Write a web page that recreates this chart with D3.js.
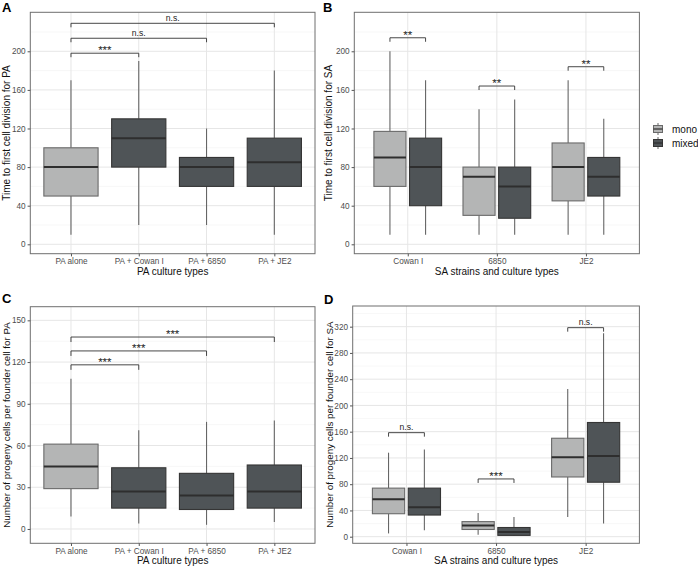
<!DOCTYPE html>
<html><head><meta charset="utf-8">
<script src="https://cdn.jsdelivr.net/npm/d3@7"></script>
<style>body{margin:0;background:#fff}svg{display:block;font-family:"Liberation Sans",Arial,sans-serif}</style>
</head><body>
<svg id="c" width="698" height="566"></svg>
<script>
// ---------- data ----------
const groups = ["mono", "mixed"];
// Panel A
const catsA = ["PA alone", "PA + Cowan I", "PA + 6850", "PA + JE2"];
const groupA = ["mono", "mixed", "mixed", "mixed"];
const minA = [10, 20, 20, 10];
const q1A  = [50, 80, 60, 60];
const medA = [80, 110, 80, 85];
const q3A  = [100, 130, 90, 110];
const maxA = [170, 190, 120, 180];
const ticksA = [0, 40, 80, 120, 160, 200];
const sigA = [{from:0,to:1,y:198,label:"***"},{from:0,to:2,y:213.5,label:"n.s."},{from:0,to:3,y:229,label:"n.s."}];
// Panel C
const minC = [9, 4, 3, 5];
const q1C  = [29, 15, 14, 15];
const medC = [45, 27, 24, 27];
const q3C  = [61, 44, 40, 46];
const maxC = [108, 71, 77, 78];
const ticksC = [0, 30, 60, 90, 120, 150];
const sigC = [{from:0,to:1,y:118,label:"***"},{from:0,to:2,y:128,label:"***"},{from:0,to:3,y:138,label:"***"}];
// Panel B (per strain: [mono, mixed])
const strains = ["Cowan I", "6850", "JE2"];
const minB = [[10,10],[10,10],[10,10]];
const q1B  = [[60,40],[30,27],[45,50]];
const medB = [[90,80],[70,60],[80,70]];
const q3B  = [[117,110],[80,80],[105,90]];
const maxB = [[200,170],[140,150],[170,130]];
const sigB = [{s:0,y:214,label:"**"},{s:1,y:164,label:"**"},{s:2,y:184,label:"**"}];
// Panel D
const minD = [[5,10],[3,1],[30,20]];
const q1D  = [[35,33],[11,2],[91,83]];
const medD = [[57,45],[17,7],[121,123]];
const q3D  = [[74,74],[23,14],[150,174]];
const maxD = [[128,133],[36,30],[225,310]];
const ticksD = [0, 40, 80, 120, 160, 200, 240, 280, 320];
const sigD = [{s:0,y:158.5,label:"n.s."},{s:1,y:88,label:"***"},{s:2,y:318.5,label:"n.s."}];

// ---------- style ----------
const fillC = {mono:"#b4b5b5", mixed:"#4f5457"};
const lineC = {mono:"#6a6a6a", mixed:"#353535"};
const svg = d3.select("#c");

function panel(o){
  const g = svg.append("g");
  const y = d3.scaleLinear().domain(o.yDom).range([o.bottom, o.top]);
  const x = d3.scalePoint().domain(o.cats).range([o.left, o.right]).padding(0.6);
  const step = x.step();
  // grid
  const minors = [];
  for (let i=0;i<o.ticks.length;i++){ const d=o.ticks[1]-o.ticks[0]; const m=o.ticks[i]+d/2; if(m<o.yDom[1]) minors.push(m); }
  g.selectAll(".gm").data(minors).join("line").attr("x1",o.left).attr("x2",o.right)
    .attr("y1",d=>y(d)).attr("y2",d=>y(d)).attr("stroke","#f1f1f1").attr("stroke-width",0.6);
  g.selectAll(".gM").data(o.ticks).join("line").attr("x1",o.left).attr("x2",o.right)
    .attr("y1",d=>y(d)).attr("y2",d=>y(d)).attr("stroke","#e6e6e6").attr("stroke-width",1);
  g.selectAll(".gx").data(o.cats).join("line").attr("y1",o.top).attr("y2",o.bottom)
    .attr("x1",d=>x(d)).attr("x2",d=>x(d)).attr("stroke","#e6e6e6").attr("stroke-width",1);
  // boxes
  const boxes = o.boxes(x, step);
  boxes.forEach(b=>{
    g.append("line").attr("x1",b.cx).attr("x2",b.cx).attr("y1",y(b.max)).attr("y2",y(b.q3)).attr("stroke","#666").attr("stroke-width",1.1);
    g.append("line").attr("x1",b.cx).attr("x2",b.cx).attr("y1",y(b.q1)).attr("y2",y(b.min)).attr("stroke","#666").attr("stroke-width",1.1);
    g.append("rect").attr("x",b.cx-b.w/2).attr("width",b.w).attr("y",y(b.q3)).attr("height",y(b.q1)-y(b.q3))
      .attr("fill",fillC[b.g]).attr("stroke",lineC[b.g]).attr("stroke-width",1.1);
    g.append("line").attr("x1",b.cx-b.w/2).attr("x2",b.cx+b.w/2).attr("y1",y(b.med)).attr("y2",y(b.med)).attr("stroke","#2e2e2e").attr("stroke-width",2);
  });
  // significance brackets
  o.sigs(x, step).forEach(s=>{
    const yy = y(s.y);
    const star = s.label.indexOf("*") >= 0;
    g.append("path").attr("d",`M${s.x1},${yy+o.tip}V${yy}H${s.x2}V${yy+o.tip}`).attr("fill","none").attr("stroke","#333").attr("stroke-width",0.9);
    g.append("text").attr("x",(s.x1+s.x2)/2).attr("y",star ? yy+1 : yy-2.6).attr("text-anchor","middle")
      .attr("font-size",star ? 11.5 : 8.6).attr("fill","#222").text(s.label);
  });
  // border
  g.append("rect").attr("x",o.left).attr("y",o.top).attr("width",o.right-o.left).attr("height",o.bottom-o.top)
    .attr("fill","none").attr("stroke","#6f6f6f").attr("stroke-width",1);
  // axes
  const ya = d3.axisLeft(y).tickValues(o.ticks).tickSize(2.7).tickPadding(2);
  const yg = g.append("g").attr("transform",`translate(${o.left},0)`).call(ya);
  const xa = d3.axisBottom(x).tickSize(2.7).tickPadding(1.8);
  const xg = g.append("g").attr("transform",`translate(0,${o.bottom})`).call(xa);
  [yg,xg].forEach(a=>{
    a.select(".domain").remove();
    a.selectAll(".tick line").attr("stroke","#555");
    a.selectAll("text").attr("font-size",8.2).attr("fill","#4d4d4d").attr("font-family","Liberation Sans, Arial, sans-serif");
  });
  // titles
  g.append("text").attr("x",(o.left+o.right)/2).attr("y",o.bottom+21).attr("text-anchor","middle")
    .attr("font-size",10).attr("fill","#111").text(o.xTitle);
  g.append("text").attr("transform",`translate(${o.yTitleX},${(o.top+o.bottom)/2}) rotate(-90)`).attr("text-anchor","middle")
    .attr("font-size",o.yTitleSize).attr("fill","#111").text(o.yTitle);
  svg.append("text").attr("x",o.letterX).attr("y",o.letterY).attr("font-size",13).attr("font-weight","bold").attr("fill","#000").text(o.letter);
}

function singleBoxes(mins,q1s,meds,q3s,maxs,cats,grp){
  return (x,step)=>cats.map((c,i)=>({cx:x(c),w:step*0.8,g:grp[i],min:mins[i],q1:q1s[i],med:meds[i],q3:q3s[i],max:maxs[i]}));
}
function dodgeBoxes(mins,q1s,meds,q3s,maxs){
  return (x,step)=>{
    const out=[];
    strains.forEach((s,i)=>groups.forEach((gname,j)=>{
      const slot = step*0.8/2;
      const cx = x(s) - step*0.4 + slot*(j+0.5);
      out.push({cx:cx,w:slot*0.9,g:gname,min:mins[i][j],q1:q1s[i][j],med:meds[i][j],q3:q3s[i][j],max:maxs[i][j]});
    }));
    return out;
  };
}
function singleSigs(list,cats){ return (x)=>list.map(s=>({x1:x(cats[s.from]),x2:x(cats[s.to]),y:s.y,label:s.label})); }
function dodgeSigs(list){ return (x,step)=>list.map(s=>{const slot=step*0.4; return {x1:x(strains[s.s])-slot/2,x2:x(strains[s.s])+slot/2,y:s.y,label:s.label};}); }

panel({letter:"A",letterX:2,letterY:12,left:30.3,right:315,top:12.3,bottom:253.7,yDom:[-9.74,240.4],
  cats:catsA,ticks:ticksA,tip:4,boxes:singleBoxes(minA,q1A,medA,q3A,maxA,catsA,groupA),sigs:singleSigs(sigA,catsA),
  xTitle:"PA culture types",yTitle:"Time to first cell division for PA",yTitleX:9.5,yTitleSize:10});
panel({letter:"B",letterX:323,letterY:12,left:354.3,right:639.4,top:12.3,bottom:253.7,yDom:[-9.74,240.4],
  cats:strains,ticks:ticksA,tip:4,boxes:dodgeBoxes(minB,q1B,medB,q3B,maxB),sigs:dodgeSigs(sigB),
  xTitle:"SA strains and culture types",yTitle:"Time to first cell division for SA",yTitleX:332,yTitleSize:10});
panel({letter:"C",letterX:2,letterY:303,left:30.3,right:315,top:306.7,bottom:543.3,yDom:[-10.3,159.8],
  cats:catsA,ticks:ticksC,tip:5,boxes:singleBoxes(minC,q1C,medC,q3C,maxC,catsA,groupA),sigs:singleSigs(sigC,catsA),
  xTitle:"PA culture types",yTitle:"Number of progeny cells per founder cell for PA",yTitleX:10,yTitleSize:9.8});
panel({letter:"D",letterX:324,letterY:304,left:352.7,right:639.4,top:306,bottom:543.3,yDom:[-10.06,351.5],
  cats:strains,ticks:ticksD,tip:4,boxes:dodgeBoxes(minD,q1D,medD,q3D,maxD),sigs:dodgeSigs(sigD),
  xTitle:"SA strains and culture types",yTitle:"Number of progeny cells per founder cell for SA",yTitleX:332.5,yTitleSize:9.8});

// legend
const lg = svg.append("g");
groups.forEach((gname,i)=>{
  const cy = 129 + i*14;
  lg.append("line").attr("x1",658).attr("x2",658).attr("y1",cy-6).attr("y2",cy+6).attr("stroke","#666");
  lg.append("rect").attr("x",653.5).attr("y",cy-3.5).attr("width",9).attr("height",7).attr("fill",fillC[gname]).attr("stroke",lineC[gname]);
  lg.append("line").attr("x1",653.5).attr("x2",662.5).attr("y1",cy).attr("y2",cy).attr("stroke","#2e2e2e").attr("stroke-width",1.2);
  lg.append("text").attr("x",672).attr("y",cy+3.5).attr("font-size",10).attr("fill","#111").text(gname);
});
</script>
</body></html>
